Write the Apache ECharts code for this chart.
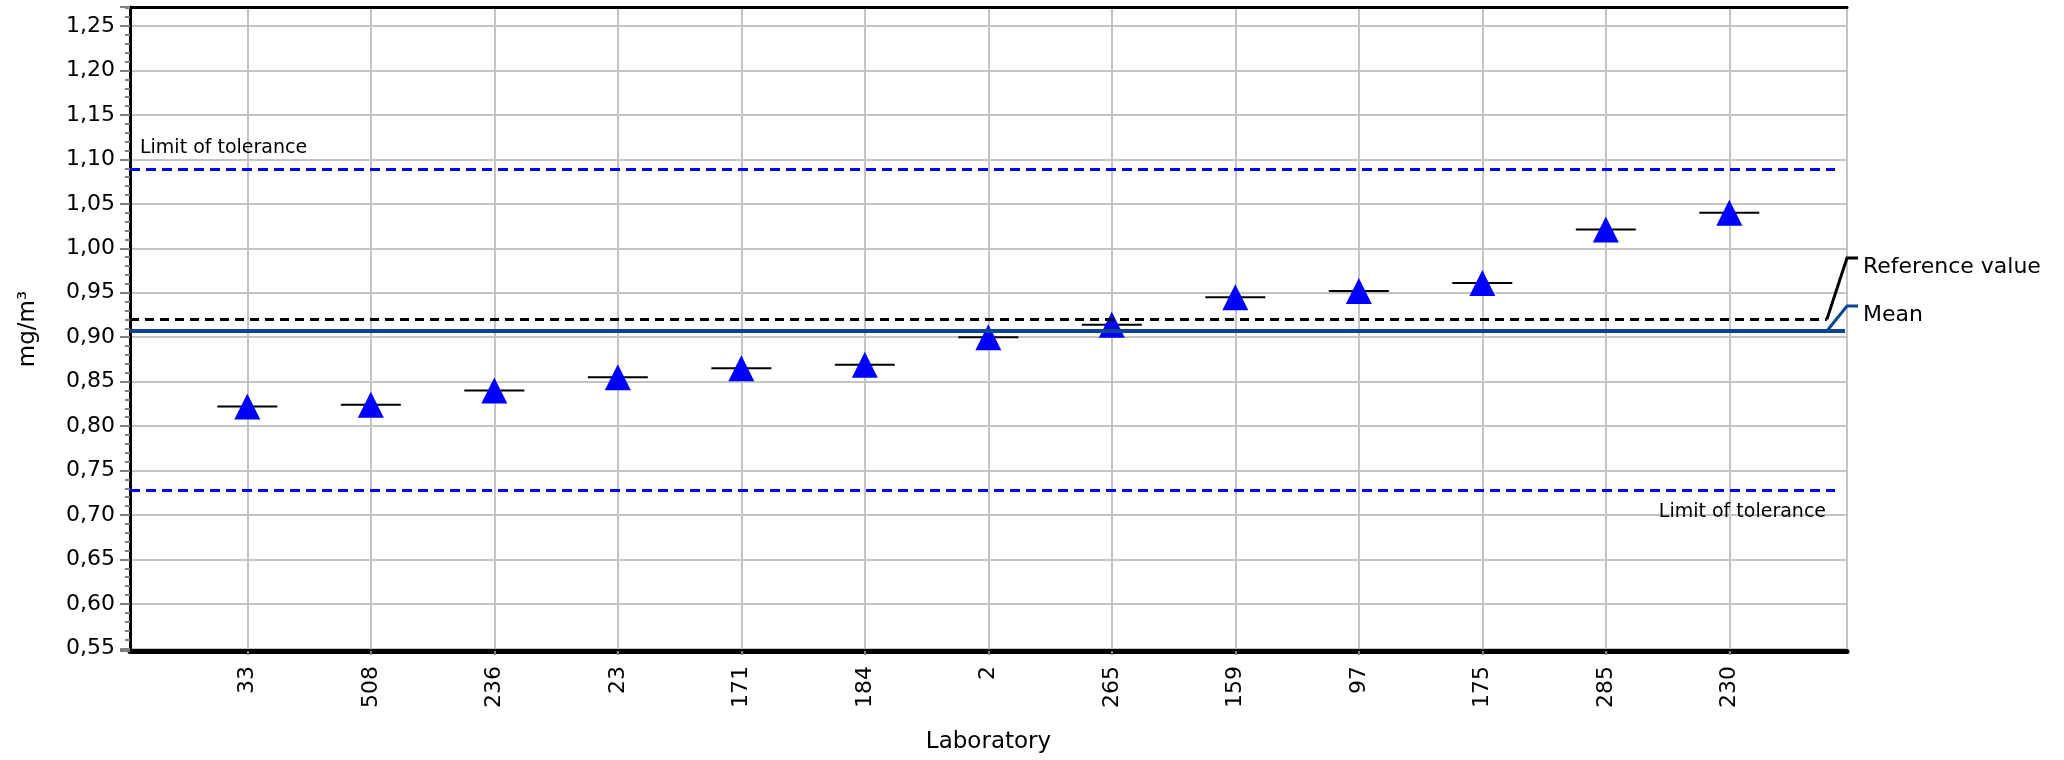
<!DOCTYPE html>
<html><head><meta charset="utf-8">
<script src="https://cdn.jsdelivr.net/npm/echarts@6/dist/echarts.min.js"></script>
<style>html,body{margin:0;padding:0;background:#fff}#c{width:2064px;height:760px}</style>
</head><body><div id="c"></div>
<script>
// ---- data ----
const laboratories = ['33','508','236','23','171','184','2','265','159','97','175','285','230'];
const labValues = [0.822,0.824,0.840,0.855,0.865,0.869,0.900,0.914,0.945,0.952,0.961,1.021,1.040];
const referenceValue = 0.920;
const meanValue = 0.907;
const upperTolerance = 1.089;
const lowerTolerance = 0.728;
const labels = { ref: 'Reference value', mean: 'Mean', tol: 'Limit of tolerance', xName: 'Laboratory', yName: 'mg/m³' };

// ---- layout ----
const FONT = 'DejaVu Sans';
const X_MIN = 0.05, X_MAX = 13.953;
const Y_MIN = 0.547, Y_MAX = 1.2714;
const TOL_END_X = 13.856, REF_END_X = 13.79, MEAN_END_X = 13.937;
const REF_LABEL_Y = 258, MEAN_LABEL_Y = 306;

const chart = echarts.init(document.getElementById('c'), null, { renderer: 'canvas' });
const gray = '#c4c4c4';
const tickGray = '#808080';

const option = {
  animation: false,
  backgroundColor: '#fff',
  grid: { left: 130, right: 217, top: 7, bottom: 109, show: true, borderColor: '#000', borderWidth: 2, backgroundColor: 'transparent' },
  xAxis: [{
    type: 'value', min: X_MIN, max: X_MAX, minInterval: 1, maxInterval: 1,
    name: labels.xName, nameLocation: 'middle', nameGap: 80,
    nameTextStyle: { fontFamily: FONT, fontSize: 23, color: '#000' },
    axisLine: { show: true, onZero: false, lineStyle: { color: '#000', width: 5 } },
    axisTick: { show: true, length: 4, lineStyle: { color: tickGray, width: 2 } },
    splitLine: { show: true, lineStyle: { color: gray, width: 2 } },
    axisLabel: {
      rotate: 90, margin: 15, fontFamily: FONT, fontSize: 22, color: '#000',
      showMinLabel: false, showMaxLabel: false,
      formatter: v => (Number.isInteger(v) && v >= 1 && v <= laboratories.length) ? laboratories[v - 1] : ''
    }
  }, {
    type: 'value', position: 'top', min: X_MIN, max: X_MAX,
    axisLine: { show: true, onZero: false, lineStyle: { color: '#000', width: 3 } },
    axisTick: { show: false }, axisLabel: { show: false }, splitLine: { show: false }
  }],
  yAxis: {
    type: 'value', min: Y_MIN, max: Y_MAX, splitNumber: 14,
    name: labels.yName, nameLocation: 'middle', nameGap: 90,
    nameTextStyle: { fontFamily: FONT, fontSize: 23, color: '#000' },
    axisLine: { show: true, lineStyle: { color: '#000', width: 3 } },
    axisTick: { show: true, length: 10, lineStyle: { color: tickGray, width: 2 } },
    minorTick: { show: true, splitNumber: 5, length: 5, lineStyle: { color: tickGray, width: 2 } },
    splitLine: { show: true, lineStyle: { color: gray, width: 2 } },
    axisLabel: {
      margin: 15, fontFamily: FONT, fontSize: 22, color: '#000',
      showMinLabel: false, showMaxLabel: false,
      formatter: v => v.toFixed(2).replace('.', ',')
    }
  },
  series: [
    {
      type: 'line', data: [], silent: true,
      markLine: {
        silent: true, symbol: 'none', animation: false,
        data: [
          [{ coord: [X_MIN, upperTolerance], lineStyle: { color: '#0000ff', type: [10, 6], width: 3 },
             label: { show: true, formatter: labels.tol, position: 'insideStartTop', distance: [10, 12], fontFamily: FONT, fontSize: 19, color: '#000' } },
           { coord: [TOL_END_X, upperTolerance] }],
          [{ coord: [X_MIN, lowerTolerance], lineStyle: { color: '#0000ff', type: [10, 6], width: 3 },
             label: { show: true, formatter: labels.tol, position: 'insideEndBottom', distance: [9, 12], fontFamily: FONT, fontSize: 19, color: '#000' } },
           { coord: [TOL_END_X, lowerTolerance] }],
          [{ coord: [X_MIN, meanValue], lineStyle: { color: '#0a4595', type: 'solid', width: 4 }, label: { show: false } },
           { coord: [MEAN_END_X, meanValue] }],
          [{ coord: [X_MIN, referenceValue], lineStyle: { color: '#000', type: [9, 6], width: 3 }, label: { show: false } },
           { coord: [REF_END_X, referenceValue] }]
        ]
      }
    },
    {
      name: 'bar', type: 'scatter', z: 3, silent: true,
      symbol: 'rect', symbolSize: [60, 2],
      itemStyle: { color: '#000', opacity: 1 },
      data: labValues.map((v, i) => [i + 1, v])
    },
    {
      name: 'lab', type: 'scatter', z: 4, silent: true,
      symbol: 'triangle', symbolSize: 26,
      itemStyle: { color: '#0000ff', opacity: 1 },
      data: labValues.map((v, i) => [i + 1, v])
    }
  ]
};
chart.setOption(option);

const pRef = chart.convertToPixel({ gridIndex: 0 }, [REF_END_X, referenceValue]);
const pMean = chart.convertToPixel({ gridIndex: 0 }, [REF_END_X, meanValue]);
const rightPx = chart.convertToPixel({ gridIndex: 0 }, [X_MAX, Y_MIN])[0];
chart.setOption({
  graphic: [
    { type: 'polyline', z: 10, silent: true, shape: { points: [[pRef[0], pRef[1]], [rightPx, REF_LABEL_Y], [rightPx + 11, REF_LABEL_Y]] },
      style: { stroke: '#000', lineWidth: 3, fill: null } },
    { type: 'polyline', z: 10, silent: true, shape: { points: [[pMean[0], pMean[1]], [rightPx, MEAN_LABEL_Y], [rightPx + 11, MEAN_LABEL_Y]] },
      style: { stroke: '#0a4595', lineWidth: 3, fill: null } },
    { type: 'text', z: 10, silent: true, x: rightPx + 16, y: REF_LABEL_Y - 2,
      style: { text: labels.ref, font: '22px "DejaVu Sans"', fill: '#000', verticalAlign: 'top' } },
    { type: 'text', z: 10, silent: true, x: rightPx + 16, y: MEAN_LABEL_Y - 2,
      style: { text: labels.mean, font: '22px "DejaVu Sans"', fill: '#000', verticalAlign: 'top' } }
  ]
});
</script>
</body></html>
